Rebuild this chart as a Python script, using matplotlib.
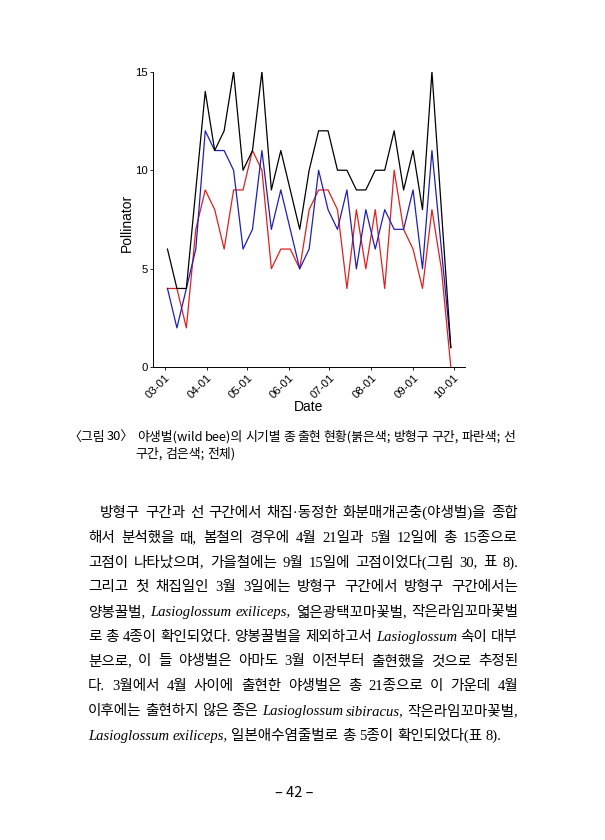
import matplotlib
matplotlib.use('Agg')
import matplotlib.pyplot as plt
import matplotlib.dates as mdates
import pandas as pd

# survey dates (weekly) and species counts
dates = ['03-03', '03-10', '03-17', '03-24', '03-31', '04-07', '04-14', '04-21',
         '04-28', '05-05', '05-12', '05-19', '05-26', '06-02', '06-09', '06-16',
         '06-23', '06-30', '07-07', '07-14', '07-21', '07-28', '08-04', '08-11',
         '08-18', '08-25', '09-01', '09-08', '09-15', '09-22', '09-29']
total = [6, 4, 4, 9, 14, 11, 12, 15, 10, 11, 15, 9, 11, 9, 7, 10,
         12, 12, 10, 10, 9, 9, 10, 10, 12, 9, 11, 8, 15, 8, 1]
line_section = [4, 2, 4, 6, 12, 11, 11, 10, 6, 7, 11, 7, 9, 7, 5, 6,
                10, 8, 7, 9, 5, 8, 6, 8, 7, 7, 9, 5, 11, 6, 1]
quadrat_section = [4, 4, 2, 7, 9, 8, 6, 9, 9, 11, 10, 5, 6, 6, 5, 8,
                   9, 9, 8, 4, 8, 5, 8, 4, 10, 7, 6, 4, 8, 5, 0]
y_ticks = [0, 5, 10, 15]

caption = ["〈그림 30〉 야생벌(wild bee)의 시기별 종 출현 현황(붉은색; 방형구 구간, 파란색; 선",
           "구간, 검은색; 전체)"]

# '_' toggles italic inside a word
body = [
    "방형구 구간과 선 구간에서 채집·동정한 화분매개곤충(야생벌)을 종합",
    "해서 분석했을 때, 봄철의 경우에 4월 21일과 5월 12일에 총 15종으로",
    "고점이 나타났으며, 가을철에는 9월 15일에 고점이었다(그림 30, 표 8).",
    "그리고 첫 채집일인 3월 3일에는 방형구 구간에서 방형구 구간에서는",
    "양봉꿀벌, _Lasioglossum_ _exiliceps,_ 엷은광택꼬마꽃벌, 작은라임꼬마꽃벌",
    "로 총 4종이 확인되었다. 양봉꿀벌을 제외하고서 _Lasioglossum_ 속이 대부",
    "분으로, 이 들 야생벌은 아마도 3월 이전부터 출현했을 것으로 추정된",
    "다. 3월에서 4월 사이에 출현한 야생벌은 총 21종으로 이 가운데 4월",
    "이후에는 출현하지 않은 종은 _Lasioglossum_ _sibiracus,_ 작은라임꼬마꽃벌,",
    "_Lasioglossum_ _exiliceps,_ 일본애수염줄벌로 총 5종이 확인되었다(표 8).",
]
page_no = "– 42 –"

W, H = 605, 840
fig = plt.figure(figsize=(W / 100, H / 100), dpi=100)
fig.patch.set_facecolor('white')

# ---- chart ----
ax = fig.add_axes([153.3 / W, 1 - 367.3 / H, (465 - 153.3) / W, (367.3 - 71.7) / H])
x = pd.to_datetime(['2021-' + d for d in dates])
ax.plot(x, quadrat_section, color='#e0201e', lw=0.9)
ax.plot(x, line_section, color='#1f1fb4', lw=0.9)
ax.plot(x, total, color='black', lw=0.9)
ax.set_ylim(0, 15)
ax.set_yticks(y_ticks)
ax.margins(x=0.05)
ax.xaxis.set_major_locator(mdates.MonthLocator())
ax.xaxis.set_major_formatter(mdates.DateFormatter('%m-%d'))
for s in ['top', 'right']:
    ax.spines[s].set_visible(False)
for s in ['left', 'bottom']:
    ax.spines[s].set_linewidth(0.7)
ax.tick_params(length=2.5, width=0.6, labelsize=8.2, pad=1.5)
for lbl in ax.get_xticklabels() + ax.get_yticklabels():
    lbl.set_family('Liberation Sans')
plt.setp(ax.get_xticklabels(), rotation=45, ha='right', rotation_mode='anchor')

fig.text(309 / W, 1 - 407 / H, 'Date', ha='center', va='center',
         fontsize=10, family='Liberation Sans')
fig.text(127 / W, 1 - 223 / H, 'Pollinator', ha='center', va='center',
         rotation=90, fontsize=10, family='Liberation Sans')

# ---- text block (justified lines) ----
renderer = fig.canvas.get_renderer()


def text_width(s, fs, family):
    t = fig.text(0, 0, s, fontsize=fs, family=family)
    w = t.get_window_extent(renderer).width
    t.remove()
    return w


def put_line(text, y, x0, x1, family, fs, justify=True):
    words = []
    for w in text.split(' '):
        pieces = []
        for k, part in enumerate(w.split('_')):
            if part:
                t = fig.text(0, 1 - y / H, part, fontsize=fs, family=family,
                             style='italic' if k % 2 else 'normal', va='baseline')
                pieces.append((t, t.get_window_extent(renderer).width))
        words.append(pieces)
    widths = [sum(p[1] for p in wd) for wd in words]
    if justify and len(words) > 1:
        gap = (x1 - x0 - sum(widths)) / (len(words) - 1)
    else:
        gap = text_width('a a', fs, family) - 2 * text_width('a', fs, family)
    xx = x0
    for wd, ww in zip(words, widths):
        px = xx
        for t, tw in wd:
            t.set_x(px / W)
            px += tw
        xx += ww + gap


cap_fam = ['Noto Sans CJK KR', 'DejaVu Sans']
put_line(caption[0], 441, 68, 515, cap_fam, 9.3)
put_line(caption[1], 458, 135, 515, cap_fam, 9.3, justify=False)

body_fam = ['Liberation Serif', 'Noto Sans CJK KR']
for i, ln in enumerate(body):
    y = 517 + 24.75 * i
    x0 = 100 if i == 0 else 88
    put_line(ln, y, x0, 518, body_fam, 10.5, justify=(i < len(body) - 1))

fig.text(294 / W, 1 - 793 / H, page_no, ha='center', va='center',
         fontsize=10.5, family=cap_fam)

fig.savefig('out.png', dpi=100)
